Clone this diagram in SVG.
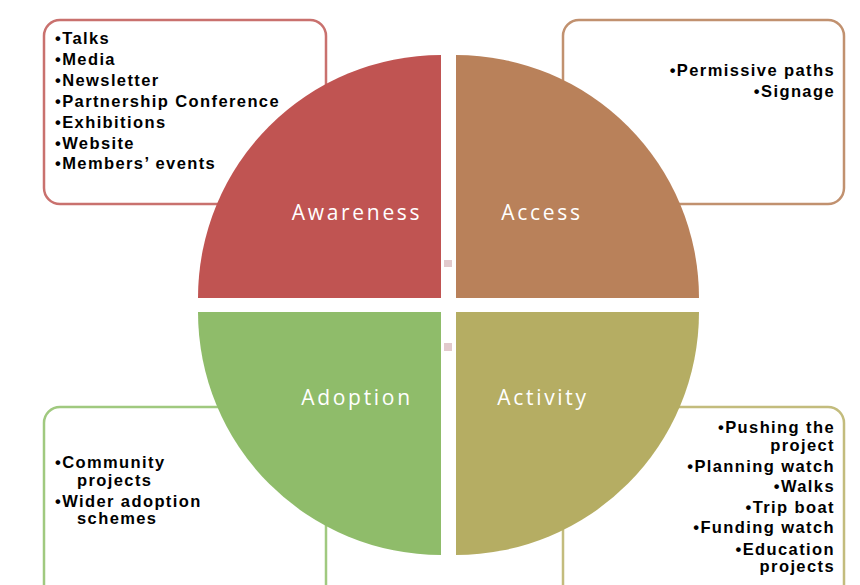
<svg xmlns="http://www.w3.org/2000/svg" width="860" height="585" viewBox="0 0 860 585">
<style>
.box{fill:#fff;stroke-width:2.5}
.t{font-family:"Liberation Sans",Arial,sans-serif;font-weight:bold;font-size:16.5px;letter-spacing:1.4px;fill:#000}
.r{text-anchor:end}
.lbl{font-family:"Open Sans","Liberation Sans",sans-serif;font-size:21px;fill:#fff;text-anchor:middle;letter-spacing:2.7px}
.dot{fill:#e2cacd}
</style>
<rect width="860" height="585" fill="#fff"/>
<g id="box-awareness">
<rect class="box" x="44" y="20" width="282" height="184" rx="16" stroke="#c9716e"/>
<text class="t" x="55" y="44">•Talks</text>
<text class="t" x="55" y="65">•Media</text>
<text class="t" x="55" y="86">•Newsletter</text>
<text class="t" x="55" y="107">•Partnership Conference</text>
<text class="t" x="55" y="127.5">•Exhibitions</text>
<text class="t" x="55" y="148.5">•Website</text>
<text class="t" x="55" y="169">•Members’ events</text>
</g>
<g id="box-access">
<rect class="box" x="563" y="20" width="281" height="184" rx="16" stroke="#c1916f"/>
<text class="t r" x="835" y="76">•Permissive paths</text>
<text class="t r" x="835" y="97">•Signage</text>
</g>
<g id="box-adoption">
<rect class="box" x="44" y="407" width="282" height="200" rx="16" stroke="#a0c97f"/>
<text class="t" x="55" y="468">•Community</text>
<text class="t" x="77" y="485.5">projects</text>
<text class="t" x="55" y="506.5">•Wider adoption</text>
<text class="t" x="77" y="523.5">schemes</text>
</g>
<g id="box-activity">
<rect class="box" x="563" y="407" width="281" height="200" rx="16" stroke="#c3bc7d"/>
<text class="t r" x="835" y="433">•Pushing the</text>
<text class="t r" x="835" y="450.5">project</text>
<text class="t r" x="835" y="471.5">•Planning watch</text>
<text class="t r" x="835" y="492">•Walks</text>
<text class="t r" x="835" y="512.5">•Trip boat</text>
<text class="t r" x="835" y="533">•Funding watch</text>
<text class="t r" x="835" y="554.5">•Education</text>
<text class="t r" x="835" y="571.5">projects</text>
</g>
<g id="awareness">
<path d="M441,298 L198,298 A243,243 0 0 1 441,55 Z" fill="#c05452"/>
<text class="lbl" x="357" y="219.5">Awareness</text>
</g>
<g id="access">
<path d="M456,298 L456,55 A243,243 0 0 1 699,298 Z" fill="#b9815a"/>
<text class="lbl" x="542" y="219.5">Access</text>
</g>
<g id="adoption">
<path d="M441,312 L441,555 A243,243 0 0 1 198,312 Z" fill="#8fbc6a"/>
<text class="lbl" x="357" y="404.5">Adoption</text>
</g>
<g id="activity">
<path d="M456,312 L699,312 A243,243 0 0 1 456,555 Z" fill="#b5ad63"/>
<text class="lbl" x="543" y="404.5">Activity</text>
</g>
<g id="connectors">
<rect class="dot" x="444" y="260" width="8" height="7"/>
<rect class="dot" x="444" y="343" width="8" height="8"/>
</g>
</svg>
